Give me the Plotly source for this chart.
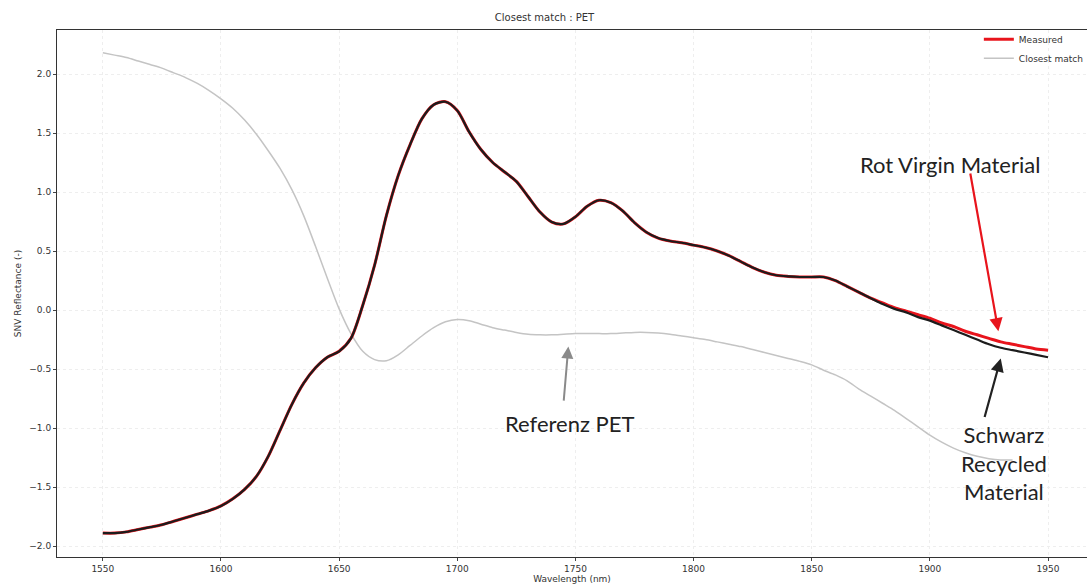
import plotly.graph_objects as go

wavelength = list(range(1550, 1951, 5))

schwarz_recycled = [
    -1.89, -1.89, -1.88, -1.86, -1.84, -1.82, -1.79, -1.76, -1.73, -1.70,
    -1.66, -1.60, -1.52, -1.41, -1.24, -1.02, -0.80, -0.62, -0.49, -0.40,
    -0.35, -0.24, 0.04, 0.38, 0.80, 1.14, 1.40, 1.62, 1.74, 1.765,
    1.69, 1.51, 1.36, 1.25, 1.17, 1.09, 0.96, 0.83, 0.745, 0.73,
    0.79, 0.88, 0.93, 0.91, 0.84, 0.74, 0.66, 0.61, 0.585, 0.57,
    0.55, 0.53, 0.50, 0.46, 0.41, 0.36, 0.32, 0.295, 0.285, 0.28,
    0.28, 0.28, 0.25, 0.20, 0.15, 0.10, 0.05, 0.01, -0.02, -0.06,
    -0.09, -0.13, -0.17, -0.21, -0.25, -0.29, -0.32, -0.34, -0.36, -0.38,
    -0.40,
]

rot_virgin = [
    -1.89, -1.89, -1.88, -1.86, -1.84, -1.82, -1.79, -1.76, -1.73, -1.70,
    -1.66, -1.60, -1.52, -1.41, -1.24, -1.02, -0.80, -0.62, -0.49, -0.40,
    -0.35, -0.24, 0.04, 0.38, 0.80, 1.14, 1.40, 1.62, 1.74, 1.765,
    1.69, 1.51, 1.36, 1.25, 1.17, 1.09, 0.96, 0.83, 0.745, 0.73,
    0.79, 0.88, 0.93, 0.91, 0.84, 0.74, 0.66, 0.61, 0.585, 0.57,
    0.55, 0.53, 0.50, 0.46, 0.41, 0.36, 0.32, 0.295, 0.285, 0.28,
    0.28, 0.28, 0.25, 0.20, 0.15, 0.10, 0.06, 0.02, -0.01, -0.04,
    -0.07, -0.11, -0.14, -0.18, -0.21, -0.24, -0.27, -0.29, -0.31, -0.33,
    -0.34,
]

wavelength_ref = list(range(1550, 1936, 5))
referenz_pet = [
    2.18, 2.16, 2.14, 2.11, 2.08, 2.05, 2.01, 1.97, 1.92, 1.86,
    1.79, 1.71, 1.61, 1.49, 1.35, 1.20, 1.02, 0.80, 0.54, 0.27,
    0.01, -0.20, -0.35, -0.42, -0.43, -0.38, -0.30, -0.22, -0.15, -0.10,
    -0.08, -0.09, -0.12, -0.15, -0.17, -0.19, -0.205, -0.21, -0.21, -0.205,
    -0.20, -0.20, -0.20, -0.20, -0.195, -0.19, -0.19, -0.195, -0.205, -0.22,
    -0.235, -0.25, -0.27, -0.29, -0.31, -0.335, -0.36, -0.385, -0.41, -0.435,
    -0.465, -0.51, -0.55, -0.60, -0.67, -0.73, -0.79, -0.85, -0.92, -0.99,
    -1.06, -1.12, -1.17, -1.21, -1.24, -1.26, -1.27, -1.27,
]

x_ticks = [1550, 1600, 1650, 1700, 1750, 1800, 1850, 1900, 1950]
y_ticks = [-2.0, -1.5, -1.0, -0.5, 0.0, 0.5, 1.0, 1.5, 2.0]

fig = go.Figure()
fig.add_trace(go.Scatter(
    x=wavelength_ref, y=referenz_pet, mode="lines", name="Closest match",
    line=dict(color="#c4c4c4", width=1.5, shape="spline", smoothing=0.8),
))
fig.add_trace(go.Scatter(
    x=wavelength, y=rot_virgin, mode="lines", name="Measured",
    line=dict(color="#e8141c", width=3, shape="spline", smoothing=0.8),
))
fig.add_trace(go.Scatter(
    x=wavelength, y=schwarz_recycled, mode="lines", name="Measured (schwarz)",
    showlegend=False,
    line=dict(color="#1c1c1c", width=2.2, shape="spline", smoothing=0.8),
))

ann_font = dict(family="Lato, Open Sans, sans-serif", size=22, color="#222222")
annotations = [
    dict(x=1908.5, y=1.23, xref="x", yref="y", text="Rot Virgin Material",
         showarrow=False, font=ann_font),
    dict(x=1929, y=-0.18, ax=1917, ay=1.17, xref="x", yref="y", axref="x", ayref="y",
         text="", showarrow=True, arrowhead=2, arrowsize=1.2, arrowwidth=2.2,
         arrowcolor="#e8141c"),
    dict(x=1931.5, y=-1.30, xref="x", yref="y",
         text="Schwarz<br>Recycled<br>Material", showarrow=False,
         font=ann_font, align="center"),
    dict(x=1930, y=-0.41, ax=1923, ay=-0.92, xref="x", yref="y", axref="x", ayref="y",
         text="", showarrow=True, arrowhead=2, arrowsize=1.2, arrowwidth=2.2,
         arrowcolor="#222222"),
    dict(x=1747.3, y=-0.96, xref="x", yref="y", text="Referenz PET",
         showarrow=False, font=ann_font),
    dict(x=1747, y=-0.31, ax=1745, ay=-0.78, xref="x", yref="y", axref="x", ayref="y",
         text="", showarrow=True, arrowhead=2, arrowsize=1.2, arrowwidth=2,
         arrowcolor="#8a8a8a"),
]

fig.update_layout(
    width=1089, height=585,
    margin=dict(l=57, r=0, t=30, b=28),
    paper_bgcolor="white", plot_bgcolor="white",
    font=dict(family="DejaVu Sans, sans-serif", size=9, color="#333333"),
    title=dict(text="Closest match : PET", x=0.5, xanchor="center", y=0.97,
               yanchor="middle", font=dict(size=10, color="#333333")),
    legend=dict(x=0.895, y=1.01, xanchor="left", yanchor="top",
                bgcolor="rgba(255,255,255,0)", font=dict(size=9),
                traceorder="reversed", itemwidth=30, tracegroupgap=0),
    annotations=annotations,
    showlegend=True,
)
fig.update_xaxes(
    range=[1530.6, 1966.5], tickvals=x_ticks, ticks="outside", ticklen=3,
    showline=True, linecolor="#333333", linewidth=1, mirror=True,
    showgrid=True, gridcolor="#eeeeee", griddash="dot", zeroline=False,
    title=dict(text="Wavelength (nm)", standoff=2, font=dict(size=9)),
)
fig.update_yaxes(
    range=[-2.093, 2.373], tickvals=y_ticks, tickformat=".1f", ticks="outside",
    ticklen=3, showline=True, linecolor="#333333", linewidth=1, mirror=False,
    showgrid=True, gridcolor="#eeeeee", griddash="dot", zeroline=False,
    title=dict(text="SNV Reflectance (-)", standoff=6, font=dict(size=9)),
)

fig.write_html("out.html")
